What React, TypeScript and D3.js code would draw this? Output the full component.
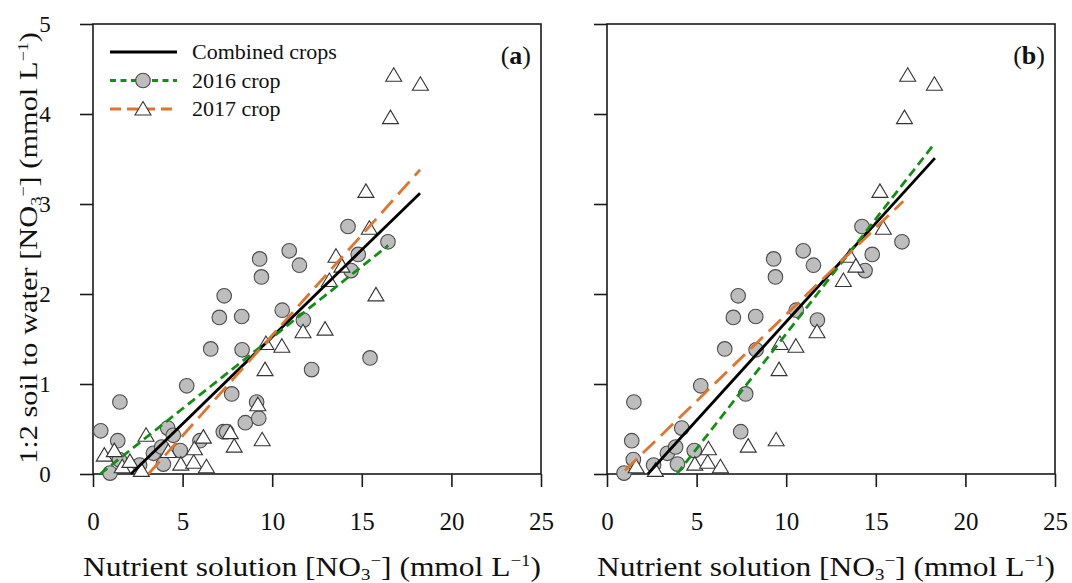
import { useEffect, useRef } from 'react';
import * as d3 from 'd3';

// [x, y, 1 = also kept in panel (b)]
type Pt = [number, number, number];

const xTicks = [0, 5, 10, 15, 20, 25];
const yTicks = [0, 1, 2, 3, 4, 5];

const crop2016: Pt[] = [
  [0.43, 0.48, 0], [1.5, 0.8, 1], [1.38, 0.37, 1], [0.95, 0.01, 1], [1.47, 0.16, 1],
  [2.6, 0.1, 1], [3.37, 0.23, 1], [3.83, 0.3, 1], [3.93, 0.11, 1], [4.17, 0.51, 1],
  [4.48, 0.43, 0], [4.87, 0.26, 1], [5.23, 0.98, 1], [5.97, 0.37, 0], [6.57, 1.39, 1],
  [7.05, 1.74, 1], [7.32, 1.98, 1], [7.27, 0.47, 0], [7.46, 0.47, 1], [7.74, 0.89, 1],
  [8.3, 1.75, 1], [8.32, 1.38, 1], [8.5, 0.57, 0], [9.13, 0.8, 0], [9.25, 0.62, 0],
  [9.3, 2.39, 1], [9.4, 2.19, 1], [10.56, 1.82, 1], [10.95, 2.48, 1], [11.52, 2.32, 1],
  [11.74, 1.71, 1], [12.2, 1.16, 0], [14.23, 2.75, 1], [14.4, 2.26, 1], [14.8, 2.44, 1],
  [15.46, 1.29, 0], [16.46, 2.58, 1],
];

const crop2017: Pt[] = [
  [0.63, 0.21, 0], [1.19, 0.26, 0], [1.63, 0.08, 1], [2.06, 0.14, 0], [2.7, 0.04, 1],
  [2.96, 0.43, 0], [4.2, 0.25, 0], [4.9, 0.11, 1], [5.62, 0.13, 1], [5.66, 0.28, 1],
  [6.16, 0.41, 0], [6.33, 0.08, 1], [7.66, 0.46, 0], [7.88, 0.31, 1], [9.2, 0.77, 0],
  [9.44, 0.38, 1], [9.6, 1.16, 1], [9.65, 1.45, 1], [10.54, 1.42, 1], [11.72, 1.58, 1],
  [12.95, 1.61, 0], [13.19, 2.15, 1], [13.56, 2.42, 1], [13.89, 2.31, 1], [15.23, 3.14, 1],
  [15.42, 2.73, 1], [15.79, 1.99, 0], [16.6, 3.96, 1], [16.78, 4.43, 1], [18.27, 4.33, 1],
];

// fitted lines, end points
const fitCombinedA: [number, number][] = [[2.12, 0], [18.25, 3.12]];
const fit2016A: [number, number][] = [[0.4, 0], [16.48, 2.54]];
const fit2017A: [number, number][] = [[3.09, 0], [18.25, 3.38]];
const fitCombinedB: [number, number][] = [[2.28, 0], [18.3, 3.51]];
const fit2016B: [number, number][] = [[3.9, 0], [18.27, 3.67]];
const fit2017B: [number, number][] = [[1.0, 0.04], [16.53, 3.03]];

const legendLabels = ['Combined crops', '2016 crop', '2017 crop'];

const FONT = "'Liberation Serif', 'Times New Roman', serif";
const GREEN = '#138f13';
const ORANGE = '#e0742c';
const lineStyles = [
  { stroke: '#000', dash: null as string | null, width: 2.8 },
  { stroke: GREEN, dash: '9,5', width: 2.8 },
  { stroke: ORANGE, dash: '17,8', width: 2.8 },
];

const W = 448;
const H = 450;
const TOP = 24;

const triPath = 'M0,-7.5L8,6L-8,6Z';

function addNO3Label(t: d3.Selection<SVGTextElement, unknown, null, undefined>, pre: string) {
  t.append('tspan').text(pre + '[NO');
  t.append('tspan').attr('font-size', '60%').attr('baseline-shift', '-0.25em').text('3');
  t.append('tspan').attr('font-size', '60%').attr('baseline-shift', '0.6em').text('−');
  t.append('tspan').text('] (mmol L');
  t.append('tspan').attr('font-size', '60%').attr('baseline-shift', '0.6em').text('−1');
  t.append('tspan').text(')');
}

export default function App() {
  const ref = useRef<SVGSVGElement>(null);

  useEffect(() => {
    if (!ref.current) return;
    const svg = d3.select(ref.current);
    svg.selectAll('*').remove();

    const panels = [
      { left: 93, tag: 'a', labels: true, keepAll: true, fits: [fitCombinedA, fit2016A, fit2017A] },
      { left: 607, tag: 'b', labels: false, keepAll: false, fits: [fitCombinedB, fit2016B, fit2017B] },
    ];

    panels.forEach(p => {
      const g = svg.append('g').attr('transform', `translate(${p.left},${TOP})`);
      const x = d3.scaleLinear().domain([0, 25]).range([0, W]);
      const y = d3.scaleLinear().domain([0, 5]).range([H, 0]);

      g.append('rect')
        .attr('width', W)
        .attr('height', H)
        .attr('fill', 'none')
        .attr('stroke', '#1a1a1a')
        .attr('stroke-width', 1.6);

      const xa = g.append('g')
        .attr('transform', `translate(0,${H})`)
        .call(d3.axisBottom(x).tickValues(xTicks).tickSize(13).tickPadding(25).tickFormat(d3.format('d')))
        .call(a => a.select('.domain').remove());
      xa.attr('font-family', FONT).attr('font-size', 25);
      xa.selectAll('line').attr('stroke', '#1a1a1a').attr('stroke-width', 1.6);
      xa.selectAll('text').attr('fill', '#111');

      const ya = g.append('g')
        .call(
          d3.axisLeft(y)
            .tickValues(yTicks)
            .tickSize(13)
            .tickPadding(28)
            .tickFormat(p.labels ? d3.format('d') : () => '')
        )
        .call(a => a.select('.domain').remove());
      ya.attr('font-family', FONT).attr('font-size', 23).attr('text-anchor', 'middle');
      ya.selectAll('line').attr('stroke', '#1a1a1a').attr('stroke-width', 1.6);
      ya.selectAll('text').attr('fill', '#111').attr('dx', '-0.3em');

      const c16 = crop2016.filter(d => p.keepAll || d[2] === 1);
      const c17 = crop2017.filter(d => p.keepAll || d[2] === 1);

      g.selectAll('circle.p16')
        .data(c16)
        .join('circle')
        .attr('class', 'p16')
        .attr('cx', d => x(d[0]))
        .attr('cy', d => y(d[1]))
        .attr('r', 7.3)
        .attr('fill', '#bdbdbd')
        .attr('stroke', '#4d4d4d')
        .attr('stroke-width', 1.1);

      g.selectAll('path.p17')
        .data(c17)
        .join('path')
        .attr('class', 'p17')
        .attr('d', triPath)
        .attr('transform', d => `translate(${x(d[0])},${y(d[1])})`)
        .attr('fill', '#fff')
        .attr('stroke', '#333')
        .attr('stroke-width', 1.1);

      const line = d3.line<[number, number]>().x(d => x(d[0])).y(d => y(d[1]));
      p.fits.forEach((f, i) => {
        const s = lineStyles[i];
        g.append('path')
          .attr('d', line(f)!)
          .attr('fill', 'none')
          .attr('stroke', s.stroke)
          .attr('stroke-width', s.width)
          .attr('stroke-dasharray', s.dash);
      });

      // panel tag
      const tag = g.append('text')
        .attr('x', W - 10)
        .attr('y', 40)
        .attr('text-anchor', 'end')
        .attr('font-family', FONT)
        .attr('font-size', 26)
        .attr('fill', '#111');
      tag.append('tspan').text('(');
      tag.append('tspan').attr('font-weight', 'bold').text(p.tag);
      tag.append('tspan').text(')');

      // x title
      const xt = svg.append('text')
        .attr('x', p.left + W / 2 - 5)
        .attr('y', 576)
        .attr('text-anchor', 'middle')
        .attr('font-family', FONT)
        .attr('font-size', 28)
        .attr('fill', '#111')
        .attr('textLength', 458)
        .attr('lengthAdjust', 'spacingAndGlyphs');
      addNO3Label(xt, 'Nutrient solution ');
    });

    // y title
    const yt = svg.append('text')
      .attr('transform', `translate(37,${TOP + H / 2 - 1}) rotate(-90)`)
      .attr('text-anchor', 'middle')
      .attr('font-family', FONT)
      .attr('font-size', 25)
      .attr('fill', '#111')
      .attr('textLength', 432)
      .attr('lengthAdjust', 'spacingAndGlyphs');
    addNO3Label(yt, '1:2 soil to water ');

    // legend (panel a)
    const lg = svg.append('g').attr('transform', `translate(${93 + 17},${TOP + 28})`);
    legendLabels.forEach((lab, i) => {
      const row = lg.append('g').attr('transform', `translate(0,${i * 28.5})`);
      const s = lineStyles[i];
      row.append('line')
        .attr('x1', 0).attr('x2', 67)
        .attr('stroke', s.stroke)
        .attr('stroke-width', s.width)
        .attr('stroke-dasharray', i === 1 ? '6,4.5' : i === 2 ? '11,6' : null);
      if (i === 1) {
        row.append('circle').attr('cx', 33).attr('r', 7.3)
          .attr('fill', '#bdbdbd').attr('stroke', '#4d4d4d').attr('stroke-width', 1.1);
      }
      if (i === 2) {
        row.append('path').attr('d', triPath).attr('transform', 'translate(33,0)')
          .attr('fill', '#fff').attr('stroke', '#333').attr('stroke-width', 1.1);
      }
      row.append('text')
        .attr('x', 82)
        .attr('dy', '0.33em')
        .attr('font-family', FONT)
        .attr('font-size', 22)
        .attr('fill', '#111')
        .text(lab);
    });
  }, []);

  return (
    <svg
      ref={ref}
      width={1072}
      height={583}
      style={{ position: 'absolute', left: 0, top: 0, background: '#fff' }}
    />
  );
}
